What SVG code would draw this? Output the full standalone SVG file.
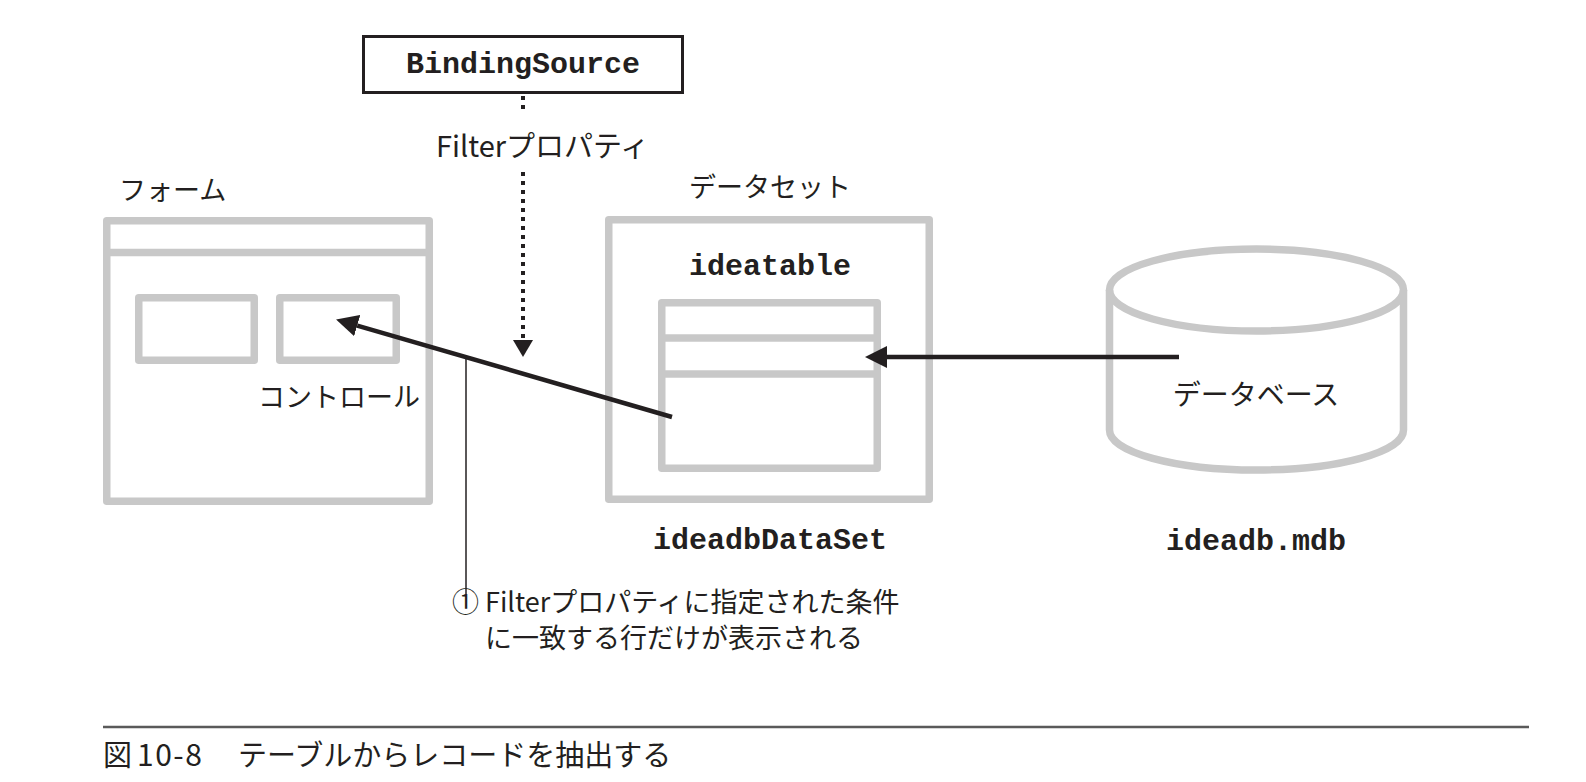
<svg xmlns="http://www.w3.org/2000/svg" width="1586" height="782" viewBox="0 0 1586 782">
<style>
.g{fill:none;stroke:#c8c8c8;stroke-width:7.5;stroke-linejoin:round}
.jp{font-family:"Noto Sans CJK JP","Noto Sans",sans-serif;fill:#231f20}
.mono{font-family:"Liberation Mono","DejaVu Sans Mono",monospace;font-weight:bold;font-size:30px;fill:#231f20}
.arr{stroke:#231f20;stroke-width:4.5;fill:none}
</style>
<defs>
<marker id="ah" markerUnits="userSpaceOnUse" markerWidth="22" markerHeight="22" refX="0" refY="10" orient="auto" viewBox="0 0 20 20">
<path d="M0,0 L20,10 L0,20 z" fill="#231f20"/>
</marker>
<marker id="ahs" markerUnits="userSpaceOnUse" markerWidth="20" markerHeight="20" refX="0" refY="10" orient="auto" viewBox="0 0 17 20">
<path d="M0,0 L17,10 L0,20 z" fill="#231f20"/>
</marker>
</defs>
<rect width="1586" height="782" fill="#fff"/>

<g id="bindingsource">
<rect x="363.5" y="36.5" width="319" height="56" fill="#fff" stroke="#231f20" stroke-width="3"/>
<text class="mono" x="523" y="73" text-anchor="middle">BindingSource</text>
</g>

<g id="filter-label">
<text class="jp" x="436" y="157" font-size="29">Filterプロパティ</text>
</g>

<g id="form">
<text class="jp" x="119" y="200" font-size="27">フォーム</text>
<rect class="g" x="106.75" y="220.75" width="322.5" height="280.5"/>
<line class="g" x1="106.75" y1="252.5" x2="429.25" y2="252.5"/>
<rect class="g" x="138.75" y="297.75" width="115.5" height="62.5"/>
<rect class="g" x="279.75" y="297.75" width="116.5" height="62.5"/>
<text class="jp" x="258" y="407" font-size="27">コントロール</text>
</g>

<g id="dataset">
<text class="jp" x="770" y="197" font-size="27" text-anchor="middle">データセット</text>
<rect class="g" x="608.75" y="219.75" width="320.5" height="279.5"/>
<text class="mono" x="770" y="275" text-anchor="middle">ideatable</text>
<rect class="g" x="661.75" y="302.75" width="215.5" height="165.5"/>
<line class="g" x1="661.75" y1="338" x2="877.25" y2="338"/>
<line class="g" x1="661.75" y1="374" x2="877.25" y2="374"/>
<text class="mono" x="770" y="549" text-anchor="middle">ideadbDataSet</text>
</g>

<g id="database">
<ellipse class="g" cx="1256.5" cy="290" rx="147" ry="41"/>
<path class="g" d="M1109.5,290 L1109.5,430 A147,40 0 0 0 1403.5,430 L1403.5,290"/>
<text class="jp" x="1256" y="405" font-size="28" text-anchor="middle">データベース</text>
<text class="mono" x="1256" y="550" text-anchor="middle">ideadb.mdb</text>
</g>

<g id="note">
<text class="jp" font-size="27"><tspan x="452" y="612">①</tspan><tspan x="485" y="612">Filterプロパティに指定された条件</tspan><tspan x="485" y="648">に一致する行だけが表示される</tspan></text>
</g>

<g id="connectors">
<line x1="523" y1="96" x2="523" y2="114" stroke="#231f20" stroke-width="4" stroke-dasharray="4 5"/>
<line x1="523" y1="172" x2="523" y2="340" stroke="#231f20" stroke-width="4" stroke-dasharray="4 5" marker-end="url(#ahs)"/>
<line class="arr" x1="1179" y1="357" x2="887" y2="357" marker-end="url(#ah)"/>
<line class="arr" x1="672" y1="417" x2="357.2" y2="325.6" marker-end="url(#ah)"/>
<line x1="466" y1="358" x2="466" y2="594" stroke="#231f20" stroke-width="1.5"/>
</g>

<g id="caption">
<line x1="103" y1="727" x2="1529" y2="727" stroke="#5a5a5a" stroke-width="2.5"/>
<text class="jp" y="766" font-size="29"><tspan x="103">図</tspan><tspan x="137" font-size="30" letter-spacing="1.5">10-8</tspan><tspan x="238">テーブルからレコードを抽出する</tspan></text>
</g>
</svg>
